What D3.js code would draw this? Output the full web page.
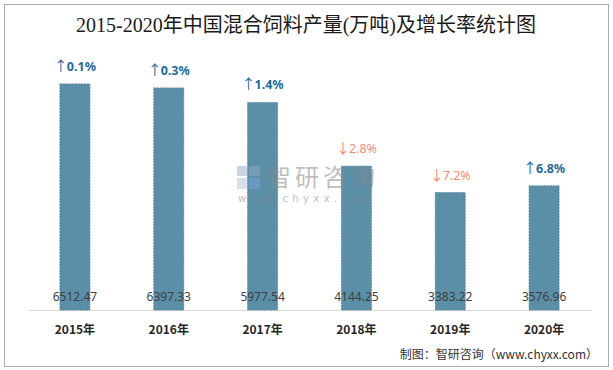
<!DOCTYPE html>
<html>
<head>
<meta charset="utf-8">
<script src="https://cdn.jsdelivr.net/npm/d3@7/dist/d3.min.js"></script>
<style>
  html, body { margin: 0; padding: 0; background: #fff; }
  svg { display: block; }
</style>
</head>
<body>
<div id="chart"></div>
<script>
/* ---------- data ---------- */
const years = ["2015年", "2016年", "2017年", "2018年", "2019年", "2020年"];
const output = [6512.47, 6397.33, 5977.54, 4144.25, 3383.22, 3576.96];
const growth = [0.1, 0.3, 1.4, -2.8, -7.2, 6.8];

const W = 613, H = 370;
const cjk = "'Noto Sans CJK SC', 'Noto Sans', sans-serif";

const svg = d3.select("#chart").append("svg")
  .attr("width", W)
  .attr("height", H);

// outer frame
svg.append("rect")
  .attr("x", 4.5).attr("y", 4.5)
  .attr("width", 604).attr("height", 362)
  .attr("fill", "#fff")
  .attr("stroke", "#ababab");

// title
svg.append("text")
  .attr("x", 306).attr("y", 32)
  .attr("text-anchor", "middle")
  .text("2015-2020年中国混合饲料产量(万吨)及增长率统计图")
  .style("font-family", "'Liberation Serif', 'Noto Sans CJK SC', serif")
  .style("font-size", "20px")
  .style("font-weight", "400")
  .style("fill", "#1a1a1a");

// scales
const x = d3.scaleBand()
  .domain(years)
  .range([28, 591]);

const y = d3.scaleLinear()
  .domain([0, 7000])
  .range([310, 67]);

const barW = 30;

// baseline
svg.append("g")
  .attr("transform", "translate(0,310)")
  .call(d3.axisBottom(x).tickSize(0).tickPadding(15))
  .call(g => g.select(".domain").attr("stroke", "#d9d9d9"))
  .selectAll("text")
  .style("font-family", cjk)
  .style("font-size", "12px")
  .style("font-weight", "700")
  .style("fill", "#262626");

// bars
svg.selectAll(".bar")
  .data(output)
  .enter().append("rect")
  .attr("class", "bar")
  .attr("x", (d, i) => x(years[i]) + x.bandwidth() / 2 - barW / 2)
  .attr("y", d => y(d))
  .attr("width", barW)
  .attr("height", d => y(0) - y(d))
  .attr("fill", "#5b8fa7")
  .attr("stroke", "#4f8299")
  .attr("stroke-dasharray", "2,1")
  .attr("stroke-width", 0.8);

// value labels near baseline
svg.selectAll(".val")
  .data(output)
  .enter().append("text")
  .attr("class", "val")
  .attr("x", (d, i) => x(years[i]) + x.bandwidth() / 2)
  .attr("y", 301)
  .attr("text-anchor", "middle")
  .text(d => d.toFixed(2))
  .style("font-family", "'Noto Sans', sans-serif")
  .style("font-size", "12px")
  .style("fill", "#404040");

// growth labels
const gr = svg.selectAll(".gr")
  .data(growth)
  .enter().append("text")
  .attr("class", "gr")
  .attr("x", (d, i) => x(years[i]) + x.bandwidth() / 2)
  .attr("y", (d, i) => y(output[i]) - 13)
  .attr("text-anchor", "middle")
  .style("font-family", "'Noto Sans', sans-serif")
  .style("font-size", "12.5px")
  .style("font-weight", d => d >= 0 ? "700" : "400")
  .style("fill", d => d >= 0 ? "#1f6a9a" : "#f08a78");
gr.append("tspan")
  .text(d => d >= 0 ? "↑" : "↓")
  .style("font-family", cjk)
  .style("font-size", "14px")
  .style("font-weight", "400");
gr.append("tspan")
  .attr("dx", -1)
  .text(d => Math.abs(d).toFixed(1) + "%");

// watermark
const wm = svg.append("g").style("opacity", 0.55);
wm.append("rect").attr("x", 237).attr("y", 166).attr("width", 10).attr("height", 10).attr("fill", "#9fb0cc");
wm.append("rect").attr("x", 249).attr("y", 166).attr("width", 11).attr("height", 10).attr("fill", "#8fa3c4");
wm.append("rect").attr("x", 237).attr("y", 178).attr("width", 10).attr("height", 11).attr("fill", "#b7c6dc");
wm.append("rect").attr("x", 249).attr("y", 178).attr("width", 11).attr("height", 11).attr("fill", "#6fa0d8");
wm.append("text")
  .attr("x", 267).attr("y", 186)
  .text("智研咨询")
  .style("font-family", cjk)
  .style("font-size", "24px")
  .style("letter-spacing", "4px")
  .style("fill", "#8a8a8a");
wm.append("text")
  .attr("x", 238).attr("y", 202)
  .text("www.chyxx.com")
  .style("font-family", "'DejaVu Sans', sans-serif")
  .style("font-size", "10px")
  .style("letter-spacing", "4.4px")
  .style("fill", "#8a8a8a");

// source
svg.append("text")
  .attr("x", 598).attr("y", 359)
  .attr("text-anchor", "end")
  .text("制图：智研咨询（www.chyxx.com）")
  .style("font-family", cjk)
  .style("font-size", "12px")
  .style("fill", "#333");
</script>
</body>
</html>
